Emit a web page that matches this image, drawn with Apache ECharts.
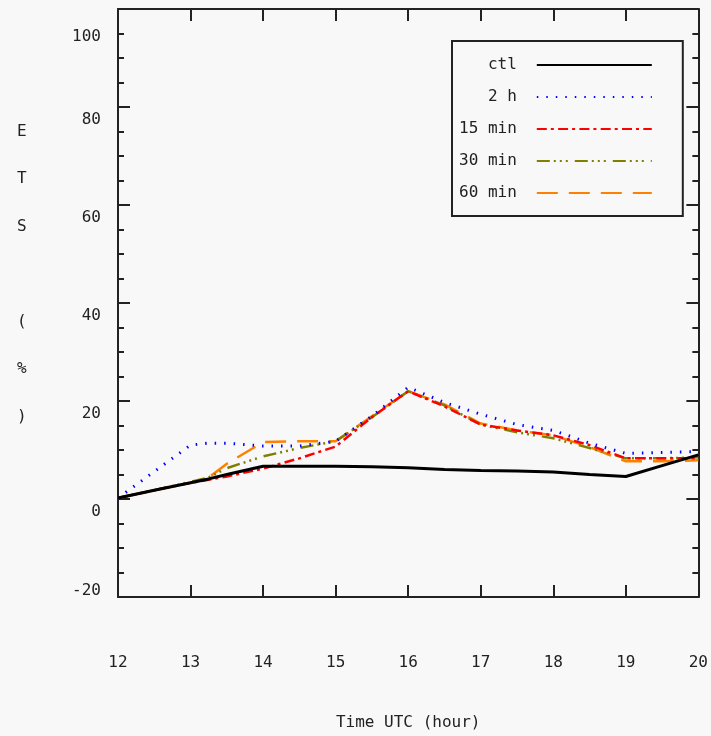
<!DOCTYPE html>
<html>
<head>
<meta charset="utf-8">
<script src="https://cdn.jsdelivr.net/npm/echarts@6/dist/echarts.min.js"></script>
<style>
html,body{margin:0;padding:0;background:#f8f8f8;}
#chart{width:711px;height:736px;}
</style>
</head>
<body>
<div id="chart"></div>
<script>
// ---- data ----
var times = [12, 12.5, 13, 13.25, 13.5, 14, 14.5, 15, 15.5, 16, 16.5, 17, 17.5, 18, 18.5, 19, 19.5, 20];
var seriesNames = ['ctl', '2 h', '15 min', '30 min', '60 min'];
var ctl    = [0.2, 1.8, 3.3, 4.1, 5.0, 6.7, 6.7, 6.7, 6.6, 6.4, 6.0, 5.8, 5.7, 5.5, 5.0, 4.6, 6.8, 9.0];
var h2     = [0.2, 5.6, 11.0, 11.4, 11.4, 10.8, 10.8, 11.8, 16.9, 22.8, 19.7, 17.3, 15.2, 14.0, 11.4, 9.3, 9.5, 9.7];
var min15  = [0.2, 1.8, 3.3, 3.9, 4.6, 6.2, 8.3, 10.7, 16.7, 22.0, 18.9, 15.2, 14.0, 13.0, 11.0, 8.3, 8.3, 8.3];
var min30  = [0.2, 1.8, 3.5, 4.4, 6.3, 8.7, 10.4, 11.8, 16.7, 22.0, 19.1, 15.2, 13.6, 12.4, 10.4, 8.3, 8.3, 8.5];
var min60  = [0.2, 1.8, 3.3, 4.4, 7.2, 11.6, 11.8, 11.8, 16.9, 22.0, 19.3, 15.4, 14.0, 13.0, 10.6, 7.7, 7.7, 7.9];
var xTicks = [12, 13, 14, 15, 16, 17, 18, 19, 20];
var yTicks = [-20, 0, 20, 40, 60, 80, 100];
var xTitle = 'Time UTC (hour)';
var yTitle = 'E\nT\nS\n\n(\n%\n)';

// ---- chart ----
var FONT = 'DejaVu Sans Mono';
var INK = '#222';
function pairs(v){ return times.map(function(t,i){ return [t, v[i]]; }); }

var styles = [
  {color:'#000000', width:3, type:'solid'},
  {color:'#0000ff', width:3, type:[1.5, 8]},
  {color:'#ff0000', width:2.5, type:[10, 4, 3, 4.3]},
  {color:'#808000', width:2.5, type:[13, 4, 2, 4, 2, 4, 2, 7]},
  {color:'#ff8000', width:2.5, type:[21, 11]}
];
var values = [ctl, h2, min15, min30, min60];

var axisLineStyle = {color: INK, width: 2};
function xAx(pos, showLabel){
  return {
    type:'value', position: pos, min: xTicks[0], max: xTicks[xTicks.length-1], interval: 1,
    axisLine:{show:true, onZero:false, lineStyle: axisLineStyle},
    axisTick:{show:true, inside:true, length:12, lineStyle:{color:INK, width:2}},
    splitLine:{show:false},
    axisLabel:{show: showLabel, margin:58, color:INK, fontFamily:FONT, fontSize:16},
    name: showLabel ? xTitle : '', nameLocation:'middle', nameGap:118,
    nameTextStyle:{color:INK, fontFamily:FONT, fontSize:16}
  };
}
function yAx(pos, showLabel){
  return {
    type:'value', position: pos, min: yTicks[0], max: yTicks[yTicks.length-1], interval: 20,
    axisLine:{show:true, onZero:false, lineStyle: axisLineStyle},
    axisTick:{show:true, inside:true, length:12, lineStyle:{color:INK, width:2}},
    minorTick:{show:true, splitNumber:4, length:6, lineStyle:{color:INK, width:2}},
    splitLine:{show:false}, minorSplitLine:{show:false},
    axisLabel:{
      show: showLabel, margin:17, color:INK, fontFamily:FONT, fontSize:16,
      formatter: function(v){
        if (v === 100) return '{t|' + v + '}';
        if (v === -20) return '{b|' + v + '}';
        return '{m|' + v + '}';
      },
      rich:{
        m:{padding:[26,0,0,0], fontFamily:FONT, fontSize:16, color:INK},
        t:{padding:[56,0,0,0], fontFamily:FONT, fontSize:16, color:INK},
        b:{padding:[0,0,12,0], fontFamily:FONT, fontSize:16, color:INK}
      }
    }
  };
}

var chart = echarts.init(document.getElementById('chart'), null, {renderer:'canvas'});
chart.setOption({
  backgroundColor:'#f8f8f8',
  animation:false,
  grid:{left:118, right:11, top:9, bottom:138, show:false},
  xAxis:[xAx('bottom', true), xAx('top', false)],
  yAxis:[yAx('left', true), yAx('right', false)],
  legend:{
    left:452, top:41, orient:'vertical', align:'right',
    itemWidth:115, itemHeight:14, itemGap:16,
    padding:[16, 30, 15, 7],
    borderColor:INK, borderWidth:2, backgroundColor:'#f8f8f8',
    itemStyle:{opacity:0, borderWidth:0},
    textStyle:{color:INK, fontFamily:FONT, fontSize:16, padding:[0,15,0,0]},
    data: seriesNames
  },
  graphic:[{
    type:'text', left: 17, top: 108,
    style:{text: yTitle, font: '16px "DejaVu Sans Mono"', fill: INK, lineHeight: 47.5, align:'center'}
  }],
  series: seriesNames.map(function(n,i){
    return {
      name:n, type:'line', xAxisIndex:0, yAxisIndex:0,
      data: pairs(values[i]), symbol:'none', showSymbol:false,
      itemStyle:{color: styles[i].color},
      lineStyle:{color: styles[i].color, width: styles[i].width, type: styles[i].type},
      z: 10 - i
    };
  })
});
</script>
</body>
</html>
